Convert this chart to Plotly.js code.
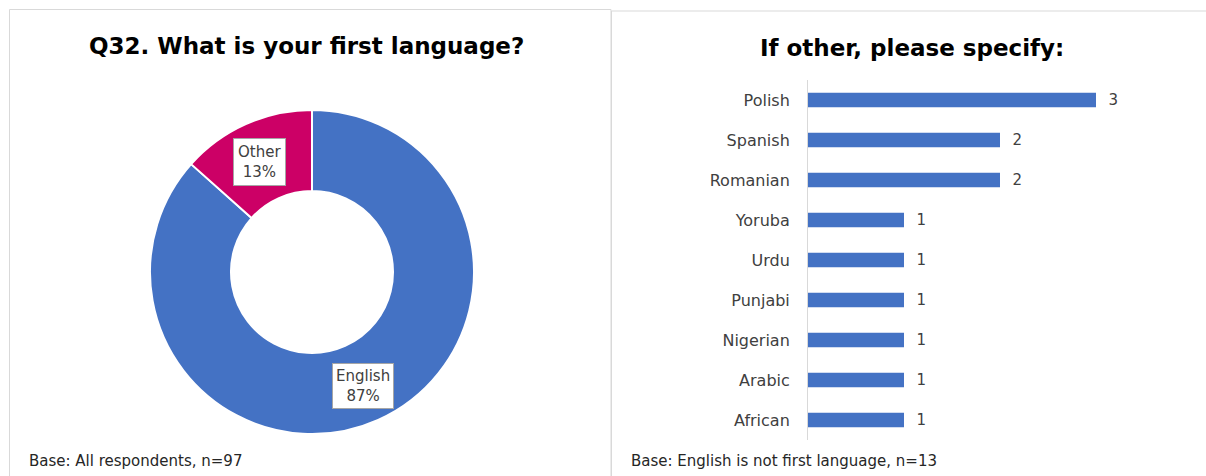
<!DOCTYPE html>
<html>
<head>
<meta charset="utf-8">
<script src="https://cdn.plot.ly/plotly-3.0.1.min.js"></script>
<style>html,body{margin:0;padding:0;background:#fff;}#chart{width:1206px;height:476px;}</style>
</head>
<body>
<div id="chart"></div>
<script>
// Donut data (drawn clockwise from 12 o'clock)
const pieLabels = ["English", "Other"];
const pieCounts = [84, 13];
const piePercents = ["87%", "13%"];
const pieColors = ["#4472C4", "#CC0066"];

// Bar data (top to bottom)
const languages = ["Polish", "Spanish", "Romanian", "Yoruba", "Urdu", "Punjabi", "Nigerian", "Arabic", "African"];
const languageCounts = [3, 2, 2, 1, 1, 1, 1, 1, 1];

const leftTitle = "Q32. What is your first language?";
const rightTitle = "If other, please specify:";
const leftBase = "Base: All respondents, n=97";
const rightBase = "Base: English is not first language, n=13";

const W = 1206, H = 476;
const px = v => v / W;
const py = v => 1 - v / H;
const FONT = "DejaVu Sans, sans-serif";
const GREY = "#404040";

const pie = {
  type: "pie",
  labels: pieLabels,
  values: pieCounts,
  sort: false,
  direction: "clockwise",
  rotation: 0,
  hole: 0.5,
  marker: {colors: pieColors, line: {color: "#ffffff", width: 2}},
  textinfo: "none",
  showlegend: false,
  domain: {x: [px(150), px(474)], y: [py(434), py(110)]},
  hoverinfo: "label+percent"
};

const bar = {
  type: "bar",
  orientation: "h",
  y: languages,
  x: languageCounts,
  marker: {color: "#4472C4"},
  text: languageCounts.map(String),
  texttemplate: "  %{text}",
  textposition: "outside",
  constraintext: "none",
  cliponaxis: false,
  textfont: {family: FONT, size: 15, color: GREY},
  xaxis: "x",
  yaxis: "y",
  showlegend: false
};

const layout = {
  width: W, height: H,
  margin: {l: 0, r: 0, t: 0, b: 0},
  paper_bgcolor: "#ffffff",
  plot_bgcolor: "rgba(0,0,0,0)",
  font: {family: FONT, color: GREY},
  bargap: 0.64,
  xaxis: {
    domain: [px(808), px(1144)],
    range: [0, 3.5],
    showgrid: false, zeroline: false, showticklabels: false, showline: false, ticks: ""
  },
  yaxis: {
    domain: [py(440), py(80)],
    autorange: "reversed",
    type: "category",
    showgrid: false, zeroline: false,
    showline: true, linecolor: "#d9d9d9", linewidth: 1,
    ticks: "",
    ticklabelstandoff: 14,
    tickfont: {family: FONT, size: 16, color: GREY}
  },
  shapes: [
    {type: "rect", xref: "paper", yref: "paper", x0: px(9.5), x1: px(611), y0: py(480), y1: py(9.5),
     line: {color: "#d9d9d9", width: 1}, fillcolor: "rgba(0,0,0,0)"},
    {type: "rect", xref: "paper", yref: "paper", x0: px(611.5), x1: px(1210), y0: py(480), y1: py(11),
     line: {color: "#d9d9d9", width: 1}, fillcolor: "rgba(0,0,0,0)"}
  ],
  annotations: [
    {text: "<b>" + leftTitle + "</b>", xref: "paper", yref: "paper", x: px(306), y: py(46),
     showarrow: false, font: {family: FONT, size: 23, color: "#000000"}, xanchor: "center", yanchor: "middle"},
    {text: "<b>" + rightTitle + "</b>", xref: "paper", yref: "paper", x: px(912), y: py(48),
     showarrow: false, font: {family: FONT, size: 23, color: "#000000"}, xanchor: "center", yanchor: "middle"},
    {text: pieLabels[1] + "<br>" + piePercents[1], xref: "paper", yref: "paper", x: px(259), y: py(162),
     showarrow: false, font: {family: FONT, size: 15, color: GREY}, bgcolor: "#ffffff",
     bordercolor: "#a6a6a6", borderwidth: 1, borderpad: 4, xanchor: "center", yanchor: "middle"},
    {text: pieLabels[0] + "<br>" + piePercents[0], xref: "paper", yref: "paper", x: px(363), y: py(386),
     showarrow: false, font: {family: FONT, size: 15, color: GREY}, bgcolor: "#ffffff",
     bordercolor: "#a6a6a6", borderwidth: 1, borderpad: 3, xanchor: "center", yanchor: "middle"},
    {text: leftBase, xref: "paper", yref: "paper", x: px(27), y: py(461),
     showarrow: false, font: {family: FONT, size: 15, color: "#262626"}, xanchor: "left", yanchor: "middle"},
    {text: rightBase, xref: "paper", yref: "paper", x: px(629), y: py(461),
     showarrow: false, font: {family: FONT, size: 15, color: "#262626"}, xanchor: "left", yanchor: "middle"}
  ]
};

Plotly.newPlot("chart", [pie, bar], layout, {displayModeBar: false, staticPlot: true});
</script>
</body>
</html>
